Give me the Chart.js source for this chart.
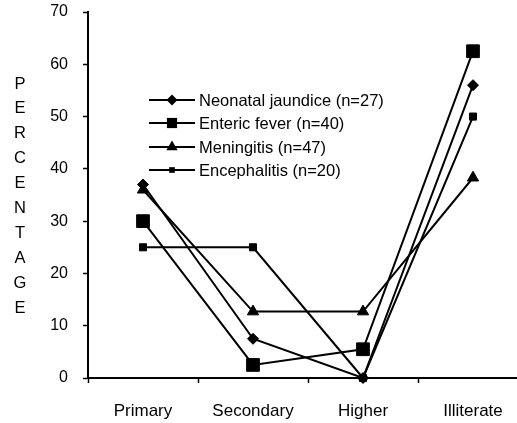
<!DOCTYPE html>
<html>
<head>
<meta charset="utf-8">
<script src="https://cdn.jsdelivr.net/npm/chart.js@4/dist/chart.umd.min.js"></script>
<style>
html,body{margin:0;padding:0;background:#fff;}
#wrap{position:relative;width:517px;height:423px;}
canvas{display:block;}
</style>
</head>
<body>
<div id="wrap"><canvas id="c" width="517" height="423"></canvas></div>
<script>
const categories = ["Primary", "Secondary", "Higher", "Illiterate"];
const seriesNames = ["Neonatal jaundice (n=27)", "Enteric fever (n=40)", "Meningitis (n=47)", "Encephalitis (n=20)"];
const neonatal = [37, 7.5, 0, 56];
const enteric = [30, 2.5, 5.5, 62.5];
const meningitis = [36, 12.7, 12.7, 38.3];
const encephalitis = [25, 25, 0, 50];
const yTicks = [0, 10, 20, 30, 40, 50, 60, 70];
const axisTitle = "PERCENTAGE";

const FONT = "Arial, 'Liberation Sans', sans-serif";
const X_MIN = -0.5, X_MAX = 3.4;
const styles = [
  {pointStyle: 'rectRot', radius: 5.5},
  {pointStyle: 'rect', radius: 9},
  {pointStyle: 'triangle', radius: 6.5},
  {pointStyle: 'rect', radius: 5}
];
const allSeries = [neonatal, enteric, meningitis, encephalitis];

const datasets = allSeries.map((vals, i) => ({
  label: seriesNames[i],
  data: vals.map((v, j) => ({x: j, y: v})),
  borderColor: '#000',
  backgroundColor: '#000',
  pointBackgroundColor: '#000',
  pointBorderColor: '#000',
  borderWidth: 2,
  tension: 0,
  clip: false,
  pointStyle: styles[i].pointStyle,
  pointRadius: styles[i].radius,
  pointHoverRadius: styles[i].radius,
  pointBorderWidth: 1
}));

function drawMarker(ctx, style, r, x, y) {
  ctx.save();
  ctx.fillStyle = '#000';
  ctx.beginPath();
  if (style === 'rectRot') {
    ctx.moveTo(x, y - r); ctx.lineTo(x + r, y); ctx.lineTo(x, y + r); ctx.lineTo(x - r, y); ctx.closePath();
  } else if (style === 'rect') {
    const s = Math.SQRT1_2 * r;
    ctx.rect(x - s, y - s, 2 * s, 2 * s);
  } else if (style === 'triangle') {
    ctx.moveTo(x, y - r); ctx.lineTo(x + r * 0.87, y + r * 0.5); ctx.lineTo(x - r * 0.87, y + r * 0.5); ctx.closePath();
  }
  ctx.fill();
  ctx.restore();
}

const legendPlugin = {
  id: 'customLegend',
  afterDraw(chart) {
    const ctx = chart.ctx;
    const rows = [100, 123, 147, 170];
    ctx.save();
    ctx.font = '16.5px ' + FONT;
    ctx.textBaseline = 'middle';
    ctx.textAlign = 'left';
    ctx.fillStyle = '#000';
    seriesNames.forEach((name, i) => {
      const y = rows[i];
      ctx.strokeStyle = '#000';
      ctx.lineWidth = 2;
      ctx.beginPath(); ctx.moveTo(149, y); ctx.lineTo(195, y); ctx.stroke();
      const st = styles[i];
      drawMarker(ctx, st.pointStyle, st.pointStyle === 'rect' ? st.radius * 0.8 : st.radius, 172, y);
      ctx.fillText(name, 199, y + 1);
    });
    ctx.restore();
  }
};

const titlePlugin = {
  id: 'stackedTitle',
  afterDraw(chart) {
    const ctx = chart.ctx;
    ctx.save();
    ctx.font = '16.5px ' + FONT;
    ctx.textAlign = 'center';
    ctx.textBaseline = 'middle';
    ctx.fillStyle = '#000';
    const letters = axisTitle.split('');
    letters.forEach((ch, i) => ctx.fillText(ch, 20, 84 + i * 24.9));
    ctx.restore();
  }
};

const isHidden = (v) => Number.isInteger(v) || v >= X_MAX;

new Chart(document.getElementById('c'), {
  type: 'line',
  data: {datasets},
  plugins: [legendPlugin, titlePlugin],
  options: {
    responsive: false,
    animation: false,
    devicePixelRatio: 1,
    layout: {autoPadding: false, padding: {top: 0, right: 0, left: 0, bottom: 0}},
    plugins: {legend: {display: false}, tooltip: {enabled: false}},
    scales: {
      x: {
        type: 'linear',
        min: X_MIN,
        max: X_MAX,
        afterFit(scale) {
          scale.height = 45;
          scale.paddingLeft = 0;
          scale.paddingRight = 0;
        },
        afterBuildTicks(scale) {
          scale.ticks = [-0.5, 0, 0.5, 1, 1.5, 2, 2.5, 3, X_MAX].map(v => ({value: v}));
        },
        ticks: {
          autoSkip: false,
          maxRotation: 0,
          minRotation: 0,
          padding: 18,
          color: '#000',
          font: {family: FONT, size: 17},
          callback: (v) => (Number.isInteger(v) && v >= 0 && v < categories.length) ? categories[v] : ''
        },
        grid: {
          drawOnChartArea: false,
          drawTicks: true,
          tickLength: 5,
          tickWidth: 1.5,
          color: (c) => (c.tick && isHidden(c.tick.value)) ? 'rgba(0,0,0,0)' : '#000',
          tickColor: (c) => (c.tick && isHidden(c.tick.value)) ? 'rgba(0,0,0,0)' : '#000'
        },
        border: {display: true, color: '#000', width: 2}
      },
      y: {
        min: 0,
        max: 70,
        afterFit(scale) {
          scale.width = 88;
          scale.paddingTop = 12;
          scale.paddingBottom = 0;
        },
        afterBuildTicks(scale) { scale.ticks = yTicks.map(v => ({value: v})); },
        ticks: {
          padding: 15,
          color: '#000',
          font: {family: FONT, size: 16},
          callback: (v) => String(v)
        },
        grid: {
          drawOnChartArea: false,
          drawTicks: true,
          tickLength: 5,
          tickWidth: 1.5,
          color: '#000'
        },
        border: {display: true, color: '#000', width: 2}
      }
    }
  }
});
</script>
</body>
</html>
